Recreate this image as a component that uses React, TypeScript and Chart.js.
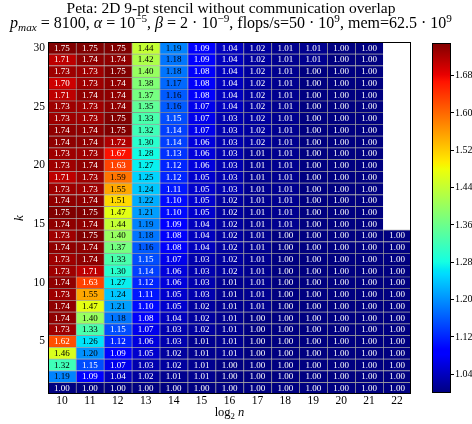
import React, { useEffect, useRef } from 'react';
import { Chart, registerables } from 'chart.js';

Chart.register(...registerables);

// ---------------- data ----------------
const xLabels = ['10', '11', '12', '13', '14', '15', '16', '17', '18', '19', '20', '21', '22'];
const kValues = [1, 2, 3, 4, 5, 6, 7, 8, 9, 10, 11, 12, 13, 14, 15, 16, 17, 18, 19, 20, 21, 22, 23, 24, 25, 26, 27, 28, 29, 30];
const yTicks = [5, 10, 15, 20, 25, 30];
const cbTicks = [1.04, 1.12, 1.2, 1.28, 1.36, 1.44, 1.52, 1.6, 1.68];
const vMin = 1.0;
const vMax = 1.75;

// each column: values for k = 1 .. 30
const col10 = [1.00, 1.19, 1.32, 1.46, 1.62, 1.73, 1.74, 1.74, 1.73, 1.74, 1.73, 1.73, 1.74, 1.73, 1.74, 1.75, 1.74, 1.73, 1.71, 1.73, 1.73, 1.74, 1.74, 1.73, 1.73, 1.71, 1.70, 1.73, 1.71, 1.75];
const col11 = [1.00, 1.09, 1.15, 1.20, 1.26, 1.33, 1.40, 1.47, 1.55, 1.63, 1.71, 1.74, 1.74, 1.75, 1.74, 1.75, 1.74, 1.73, 1.73, 1.74, 1.73, 1.74, 1.74, 1.73, 1.73, 1.74, 1.73, 1.73, 1.74, 1.75];
const col12 = [1.00, 1.04, 1.07, 1.09, 1.12, 1.15, 1.18, 1.21, 1.24, 1.27, 1.30, 1.33, 1.37, 1.40, 1.44, 1.47, 1.51, 1.55, 1.59, 1.63, 1.67, 1.72, 1.75, 1.75, 1.74, 1.74, 1.74, 1.75, 1.74, 1.75];
const col13 = [1.00, 1.02, 1.03, 1.05, 1.06, 1.07, 1.08, 1.10, 1.11, 1.12, 1.14, 1.15, 1.16, 1.18, 1.19, 1.21, 1.22, 1.24, 1.25, 1.27, 1.28, 1.30, 1.32, 1.33, 1.35, 1.37, 1.38, 1.40, 1.42, 1.44];
const col14 = [1.00, 1.01, 1.02, 1.02, 1.03, 1.03, 1.04, 1.05, 1.05, 1.06, 1.06, 1.07, 1.08, 1.08, 1.09, 1.10, 1.10, 1.11, 1.12, 1.12, 1.13, 1.14, 1.14, 1.15, 1.16, 1.16, 1.17, 1.18, 1.18, 1.19];
const col15 = [1.00, 1.01, 1.01, 1.01, 1.01, 1.02, 1.02, 1.02, 1.03, 1.03, 1.03, 1.03, 1.04, 1.04, 1.04, 1.05, 1.05, 1.05, 1.05, 1.06, 1.06, 1.06, 1.07, 1.07, 1.07, 1.08, 1.08, 1.08, 1.09, 1.09];
const col16 = [1.00, 1.00, 1.00, 1.01, 1.01, 1.01, 1.01, 1.01, 1.01, 1.01, 1.02, 1.02, 1.02, 1.02, 1.02, 1.02, 1.02, 1.03, 1.03, 1.03, 1.03, 1.03, 1.03, 1.03, 1.04, 1.04, 1.04, 1.04, 1.04, 1.04];
const col17 = [1.00, 1.00, 1.00, 1.00, 1.00, 1.00, 1.00, 1.01, 1.01, 1.01, 1.01, 1.01, 1.01, 1.01, 1.01, 1.01, 1.01, 1.01, 1.01, 1.01, 1.01, 1.02, 1.02, 1.02, 1.02, 1.02, 1.02, 1.02, 1.02, 1.02];
const col18 = [1.00, 1.00, 1.00, 1.00, 1.00, 1.00, 1.00, 1.00, 1.00, 1.00, 1.00, 1.00, 1.00, 1.00, 1.01, 1.01, 1.01, 1.01, 1.01, 1.01, 1.01, 1.01, 1.01, 1.01, 1.01, 1.01, 1.01, 1.01, 1.01, 1.01];
const col19 = [1.00, 1.00, 1.00, 1.00, 1.00, 1.00, 1.00, 1.00, 1.00, 1.00, 1.00, 1.00, 1.00, 1.00, 1.00, 1.00, 1.00, 1.00, 1.00, 1.00, 1.00, 1.00, 1.00, 1.00, 1.00, 1.00, 1.00, 1.00, 1.01, 1.01];
const col20 = [1.00, 1.00, 1.00, 1.00, 1.00, 1.00, 1.00, 1.00, 1.00, 1.00, 1.00, 1.00, 1.00, 1.00, 1.00, 1.00, 1.00, 1.00, 1.00, 1.00, 1.00, 1.00, 1.00, 1.00, 1.00, 1.00, 1.00, 1.00, 1.00, 1.00];
const col21 = [1.00, 1.00, 1.00, 1.00, 1.00, 1.00, 1.00, 1.00, 1.00, 1.00, 1.00, 1.00, 1.00, 1.00, 1.00, 1.00, 1.00, 1.00, 1.00, 1.00, 1.00, 1.00, 1.00, 1.00, 1.00, 1.00, 1.00, 1.00, 1.00, 1.00];
const col22 = [1.00, 1.00, 1.00, 1.00, 1.00, 1.00, 1.00, 1.00, 1.00, 1.00, 1.00, 1.00, 1.00, 1.00, null, null, null, null, null, null, null, null, null, null, null, null, null, null, null, null];

const columns: (number | null)[][] = [col10, col11, col12, col13, col14, col15, col16, col17, col18, col19, col20, col21, col22];

// ---------------- colour map (jet) ----------------
const FONT = '"Liberation Serif", "DejaVu Serif", serif';
const jetR: [number, number][] = [[0, 0], [0.35, 0], [0.66, 1], [0.89, 1], [1, 0.5]];
const jetG: [number, number][] = [[0, 0], [0.125, 0], [0.375, 1], [0.64, 1], [0.91, 0], [1, 0]];
const jetB: [number, number][] = [[0, 0.5], [0.11, 1], [0.34, 1], [0.65, 0], [1, 0]];
const jetStops = [0, 0.11, 0.125, 0.34, 0.35, 0.375, 0.64, 0.65, 0.66, 0.89, 0.91, 1];

function interp(pts: [number, number][], t: number) {
  if (t <= pts[0][0]) return pts[0][1];
  for (let i = 1; i < pts.length; i++) {
    if (t <= pts[i][0]) {
      const [x0, y0] = pts[i - 1];
      const [x1, y1] = pts[i];
      return y0 + ((t - x0) / (x1 - x0)) * (y1 - y0);
    }
  }
  return pts[pts.length - 1][1];
}
function jet(t: number) {
  const c = Math.max(0, Math.min(1, t));
  const r = Math.round(interp(jetR, c) * 255);
  const g = Math.round(interp(jetG, c) * 255);
  const b = Math.round(interp(jetB, c) * 255);
  return `rgb(${r},${g},${b})`;
}
const norm = (v: number) => (v - vMin) / (vMax - vMin);
const textColor = (v: number) => {
  const t = norm(v);
  return t < 0.205 || t > 0.795 ? '#ffffff' : '#000000';
};

// ---------------- plugins ----------------
const cellText = {
  id: 'cellText',
  afterDatasetsDraw(chart: any) {
    const ctx = chart.ctx;
    ctx.save();
    ctx.font = `9px ${FONT}`;
    ctx.textAlign = 'center';
    ctx.textBaseline = 'middle';
    chart.data.datasets.forEach((_ds: any, di: number) => {
      const meta = chart.getDatasetMeta(di);
      meta.data.forEach((el: any, ci: number) => {
        const v = columns[ci][di];
        if (v == null) return;
        const p = el.getProps(['x', 'y', 'base'], true);
        ctx.fillStyle = textColor(v);
        ctx.fillText(v.toFixed(2), p.x, (p.y + p.base) / 2 + 0.5);
      });
    });
    ctx.restore();
  },
};

const frame = {
  id: 'frame',
  afterDraw(chart: any) {
    const { ctx, chartArea: a } = chart;
    ctx.save();
    ctx.strokeStyle = '#000';
    ctx.lineWidth = 1;
    const l = Math.round(a.left) + 0.5;
    const t = Math.round(a.top) + 0.5;
    const r = Math.round(a.right) - 0.5;
    const b = Math.round(a.bottom) - 0.5;
    ctx.strokeRect(l, t, r - l, b - t);
    ctx.restore();
  },
};

type Seg = { t: string; italic?: boolean; sub?: boolean; sup?: boolean };
const titleLine1 = 'Peta: 2D 9-pt stencil without communication overlap';
const titleLine2: Seg[] = [
  { t: 'p', italic: true },
  { t: 'max', italic: true, sub: true },
  { t: ' = 8100, ' },
  { t: 'α', italic: true },
  { t: ' = 10' },
  { t: '−5', sup: true },
  { t: ', ' },
  { t: 'β', italic: true },
  { t: ' = 2 · 10' },
  { t: '−9', sup: true },
  { t: ', flops/s=50 · 10' },
  { t: '9', sup: true },
  { t: ', mem=62.5 · 10' },
  { t: '9', sup: true },
];
const xTitle: Seg[] = [
  { t: 'log' },
  { t: '2', sub: true },
  { t: ' ' },
  { t: 'n', italic: true },
];

function drawSegs(ctx: any, segs: Seg[], cx: number, base: number, size: number, subDy: number, supDy: number) {
  const fontFor = (s: Seg) => `${s.italic ? 'italic ' : ''}${s.sub || s.sup ? size * 0.7 : size}px ${FONT}`;
  let w = 0;
  segs.forEach((s) => {
    ctx.font = fontFor(s);
    w += ctx.measureText(s.t).width;
  });
  let x = cx - w / 2;
  ctx.textAlign = 'left';
  ctx.textBaseline = 'alphabetic';
  segs.forEach((s) => {
    ctx.font = fontFor(s);
    const dy = s.sub ? subDy : s.sup ? supDy : 0;
    ctx.fillText(s.t, x, base + dy);
    x += ctx.measureText(s.t).width;
  });
}

const titlePlugin = {
  id: 'richTitle',
  afterDraw(chart: any) {
    const ctx = chart.ctx;
    const cx = 231;
    ctx.save();
    ctx.fillStyle = '#000';
    ctx.textBaseline = 'alphabetic';
    ctx.textAlign = 'center';
    ctx.font = `15.5px ${FONT}`;
    ctx.fillText(titleLine1, cx, 13);
    drawSegs(ctx, titleLine2, cx, 28, 16, 3, -6);
    const a = chart.chartArea;
    drawSegs(ctx, xTitle, (a.left + a.right) / 2, 416, 12.5, 3, -5);
    ctx.restore();
  },
};

const cbFrame = {
  id: 'cbFrame',
  afterDraw(chart: any) {
    const { ctx, chartArea: a } = chart;
    ctx.save();
    ctx.strokeStyle = '#000';
    ctx.lineWidth = 1;
    ctx.strokeRect(Math.round(a.left) + 0.5, Math.round(a.top) + 0.5, Math.round(a.right - a.left) - 1, Math.round(a.bottom - a.top) - 1);
    ctx.restore();
  },
};

export default function App() {
  const mainRef = useRef<HTMLCanvasElement>(null);
  const cbRef = useRef<HTMLCanvasElement>(null);

  useEffect(() => {
    Chart.defaults.font.family = FONT;
    Chart.defaults.color = '#000';

    const datasets = kValues.map((k, i) => ({
      label: `k=${k}`,
      data: columns.map((col) => (col[i] == null ? null : [k - 0.5, k + 0.5])),
      backgroundColor: columns.map((col) => (col[i] == null ? 'rgba(0,0,0,0)' : jet(norm(col[i] as number)))),
      borderColor: 'rgba(0,0,0,0.35)',
      borderWidth: { top: 1, left: 1, right: 0, bottom: 0 },
      borderSkipped: false,
      grouped: false,
      barPercentage: 1,
      categoryPercentage: 1,
    }));

    const main = new Chart(mainRef.current as HTMLCanvasElement, {
      type: 'bar',
      data: { labels: xLabels, datasets: datasets as any },
      options: {
        animation: false,
        responsive: false,
        layout: { padding: { top: 42, right: 61, left: 0, bottom: 0 } },
        plugins: { legend: { display: false }, tooltip: { enabled: false }, title: { display: false } },
        scales: {
          x: {
            type: 'category',
            grid: { display: false, drawTicks: false },
            border: { display: false },
            ticks: { font: { size: 11.5, family: FONT }, color: '#000', padding: 0, maxRotation: 0, autoSkip: false },
            title: { display: false },
            afterFit: (s: any) => { s.height = 30; },
          },
          y: {
            type: 'linear',
            min: 0.5,
            max: 30.5,
            grid: { display: false, drawTicks: false },
            border: { display: false },
            afterBuildTicks: (s: any) => { s.ticks = yTicks.map((v) => ({ value: v })); },
            ticks: { font: { size: 11.5, family: FONT }, color: '#000', padding: 3 },
            title: { display: true, text: 'k', font: { size: 13, style: 'italic', family: FONT }, color: '#000', padding: { top: 12, bottom: 0 } },
            afterFit: (s: any) => { s.width = 48; },
          },
        },
      },
      plugins: [cellText, frame, titlePlugin],
    });

    const cb = new Chart(cbRef.current as HTMLCanvasElement, {
      type: 'bar',
      data: {
        labels: [''],
        datasets: [
          {
            data: [[vMin, vMax]] as any,
            backgroundColor: (c: any) => {
              const area = c.chart.chartArea;
              if (!area) return 'rgba(0,0,0,0)';
              const g = c.chart.ctx.createLinearGradient(0, area.bottom, 0, area.top);
              jetStops.forEach((s) => g.addColorStop(s, jet(s)));
              return g;
            },
            borderWidth: 0,
            barPercentage: 1,
            categoryPercentage: 1,
          },
        ],
      },
      options: {
        animation: false,
        responsive: false,
        layout: { padding: { top: 43, left: 12, right: 0, bottom: 31 } },
        plugins: { legend: { display: false }, tooltip: { enabled: false } },
        scales: {
          x: { display: false },
          y: {
            position: 'right',
            min: vMin,
            max: vMax,
            grid: { display: true, drawOnChartArea: false, drawTicks: true, tickLength: 3, color: '#000' },
            border: { display: false },
            afterBuildTicks: (s: any) => { s.ticks = cbTicks.map((v) => ({ value: v })); },
            ticks: { font: { size: 10, family: FONT }, color: '#000', padding: 1, callback: (v: any) => Number(v).toFixed(2) },
            afterFit: (s: any) => { s.width = 21; },
          },
        },
      },
      plugins: [cbFrame],
    });

    return () => {
      main.destroy();
      cb.destroy();
    };
  }, []);

  return (
    <div style={{ position: 'fixed', left: 0, top: 0, width: 472, height: 424, background: '#fff' }}>
      <canvas ref={mainRef} width={472} height={424} style={{ position: 'absolute', left: 0, top: 0, display: 'block' }} />
      <canvas ref={cbRef} width={52} height={424} style={{ position: 'absolute', left: 420, top: 0, display: 'block' }} />
    </div>
  );
}
